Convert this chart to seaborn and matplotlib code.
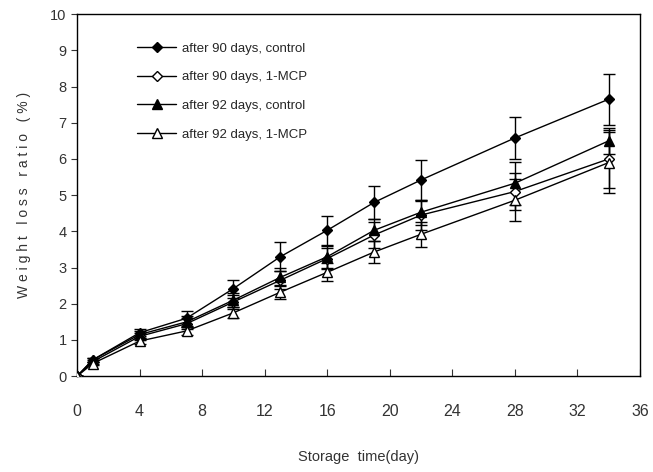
import numpy as np
import pandas as pd
import seaborn as sns
import matplotlib.pyplot as plt

# ================= DATA =================
days = [0, 1, 4, 7, 10, 13, 16, 19, 22, 28, 34]

ctrl_90 = [0, 0.45, 1.2, 1.6, 2.42, 3.3, 4.03, 4.8, 5.42, 6.58, 7.65]
ctrl_90_err = [0, 0.05, 0.1, 0.2, 0.25, 0.4, 0.4, 0.45, 0.55, 0.57, 0.7]

mcp_90 = [0, 0.4, 1.1, 1.45, 2.05, 2.65, 3.25, 3.9, 4.45, 5.1, 6.0]
mcp_90_err = [0, 0.05, 0.1, 0.15, 0.2, 0.25, 0.3, 0.35, 0.4, 0.5, 0.8]

ctrl_92 = [0, 0.45, 1.15, 1.5, 2.1, 2.73, 3.3, 4.03, 4.53, 5.33, 6.5]
ctrl_92_err = [0, 0.05, 0.1, 0.15, 0.2, 0.25, 0.3, 0.3, 0.35, 0.6, 0.35]

mcp_92 = [0, 0.35, 0.97, 1.25, 1.75, 2.32, 2.87, 3.43, 3.92, 4.86, 5.9]
mcp_92_err = [0, 0.05, 0.08, 0.1, 0.15, 0.2, 0.25, 0.3, 0.35, 0.58, 0.85]

labels = ["after 90 days, control", "after 90 days, 1-MCP",
          "after 92 days, control", "after 92 days, 1-MCP"]

# ================= PLOT =================
sns.set_style("ticks")
plt.rcParams['font.family'] = ['Liberation Sans', 'DejaVu Sans']

fig = plt.figure(figsize=(6.53, 4.72), dpi=100)
ax = fig.add_axes([0.118, 0.203, 0.862, 0.767])

series = [
    (ctrl_90, ctrl_90_err, "D", "black"),
    (mcp_90, mcp_90_err, "D", "white"),
    (ctrl_92, ctrl_92_err, "^", "black"),
    (mcp_92, mcp_92_err, "^", "white"),
]

for (vals, errs, mk, fc), lab in zip(series, labels):
    ax.errorbar(days, vals, yerr=errs, fmt="none", ecolor="black",
                elinewidth=1, capsize=4, capthick=1, zorder=2)
    df = pd.DataFrame({"day": days, "val": vals})
    sns.lineplot(data=df, x="day", y="val", ax=ax, color="black",
                 linewidth=1, marker=mk, markersize=5.5 if mk == "D" else 6.5,
                 markerfacecolor=fc, markeredgecolor="black",
                 markeredgewidth=1, label=lab, zorder=3)

ax.set_xlim(0, 36)
ax.set_ylim(0, 10)
ax.set_xticks(np.arange(0, 37, 4))
ax.set_yticks(np.arange(0, 11, 1))
ax.tick_params(axis="x", direction="in", length=5, labelsize=11.5, pad=20, colors="#333333")
ax.tick_params(axis="y", direction="out", length=4, labelsize=10.5, colors="#333333")
for sp in ax.spines.values():
    sp.set_visible(True)
    sp.set_linewidth(1)
    sp.set_color("black")

ax.set_xlabel("Storage  time(day)", fontsize=10.5, labelpad=22, color="#333333")
ax.set_ylabel("W e i g h t   l o s s   r a t i o   ( % )", fontsize=10, labelpad=14,
              color="#333333")

leg = ax.legend(loc="upper left", bbox_to_anchor=(0.085, 0.955), frameon=False,
                fontsize=9.5, handlelength=3, labelspacing=1.25, handletextpad=0.4)

fig.savefig("out.png", dpi=100)
